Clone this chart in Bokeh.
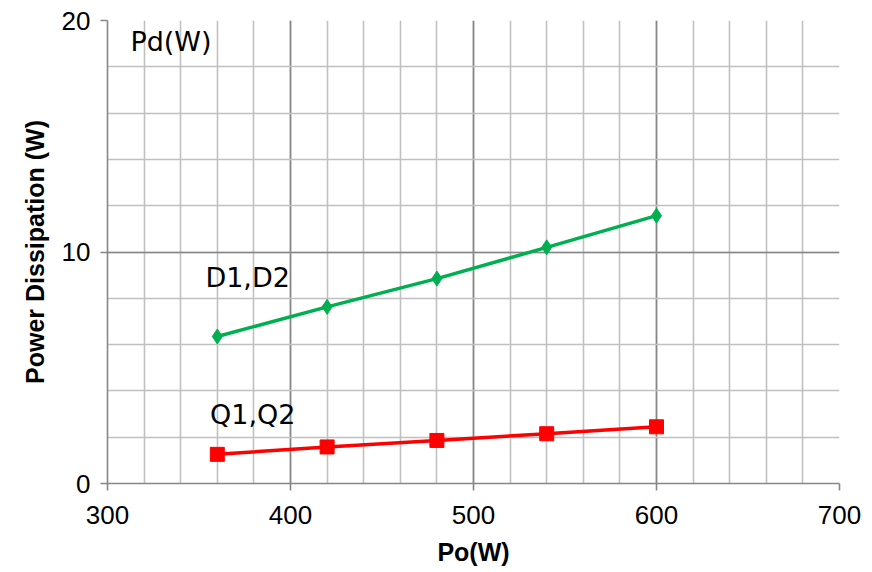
from bokeh.plotting import figure
from bokeh.models import SingleIntervalTicker, Label, Range1d
from bokeh.embed import file_html
from bokeh.resources import INLINE

po = [360, 420, 480, 540, 600]
d_loss = [6.35, 7.63, 8.85, 10.2, 11.57]
q_loss = [1.26, 1.58, 1.86, 2.15, 2.45]

p = figure(width=864, height=568, output_backend="svg", toolbar_location=None,
           x_range=Range1d(300, 700), y_range=Range1d(0, 20),
           min_border_left=107, min_border_right=25, min_border_top=20, min_border_bottom=83)
p.outline_line_color = None
p.background_fill_color = "white"

xt = SingleIntervalTicker(interval=100, num_minor_ticks=5)
yt = SingleIntervalTicker(interval=10, num_minor_ticks=5)
p.xaxis.ticker = xt
p.yaxis.ticker = yt
p.xgrid.ticker = xt
p.ygrid.ticker = yt

for g in (p.xgrid, p.ygrid):
    g.grid_line_color = "#868686"
    g.grid_line_width = 1.6
    g.minor_grid_line_color = "#c0c0c0"
    g.minor_grid_line_width = 1.6

for ax in (p.xaxis, p.yaxis):
    ax.axis_line_color = "#868686"
    ax.axis_line_width = 1.6
    ax.major_tick_line_color = "#868686"
    ax.major_tick_line_width = 1.6
    ax.major_tick_out = 7
    ax.major_tick_in = 0
    ax.minor_tick_line_color = None
    ax.major_label_text_font = "Liberation Sans"
    ax.major_label_text_font_size = "26px"
    ax.major_label_text_color = "black"
    ax.axis_label_text_font = "Liberation Sans"
    ax.axis_label_text_font_style = "bold"
    ax.axis_label_text_font_size = "25px"
    ax.axis_label_text_color = "black"

p.xaxis.axis_label = "Po(W)"
p.yaxis.axis_label = "Power Dissipation (W)"
p.xaxis.major_label_standoff = 15
p.yaxis.major_label_standoff = 10
p.xaxis.axis_label_standoff = 11
p.yaxis.axis_label_standoff = 10

p.line(po, d_loss, line_color="#00b050", line_width=3.5)
p.scatter(po, d_loss, marker="diamond", size=15, color="#00b050")
p.line(po, q_loss, line_color="#ff0000", line_width=3.5)
p.scatter(po, q_loss, marker="square", size=14, color="#ff0000")

for txt, x, y in [("Pd(W)", 312.5, 19.75), ("D1,D2", 353.5, 8.9), ("Q1,Q2", 356, 3.0)]:
    base = "top" if txt == "Pd(W)" else "middle"
    p.add_layout(Label(x=x, y=y, text=txt, text_font="DejaVu Sans", text_font_size="27px",
                       text_baseline=base, text_align="left", text_color="black"))

open("out.html", "w").write(file_html(p, INLINE))
